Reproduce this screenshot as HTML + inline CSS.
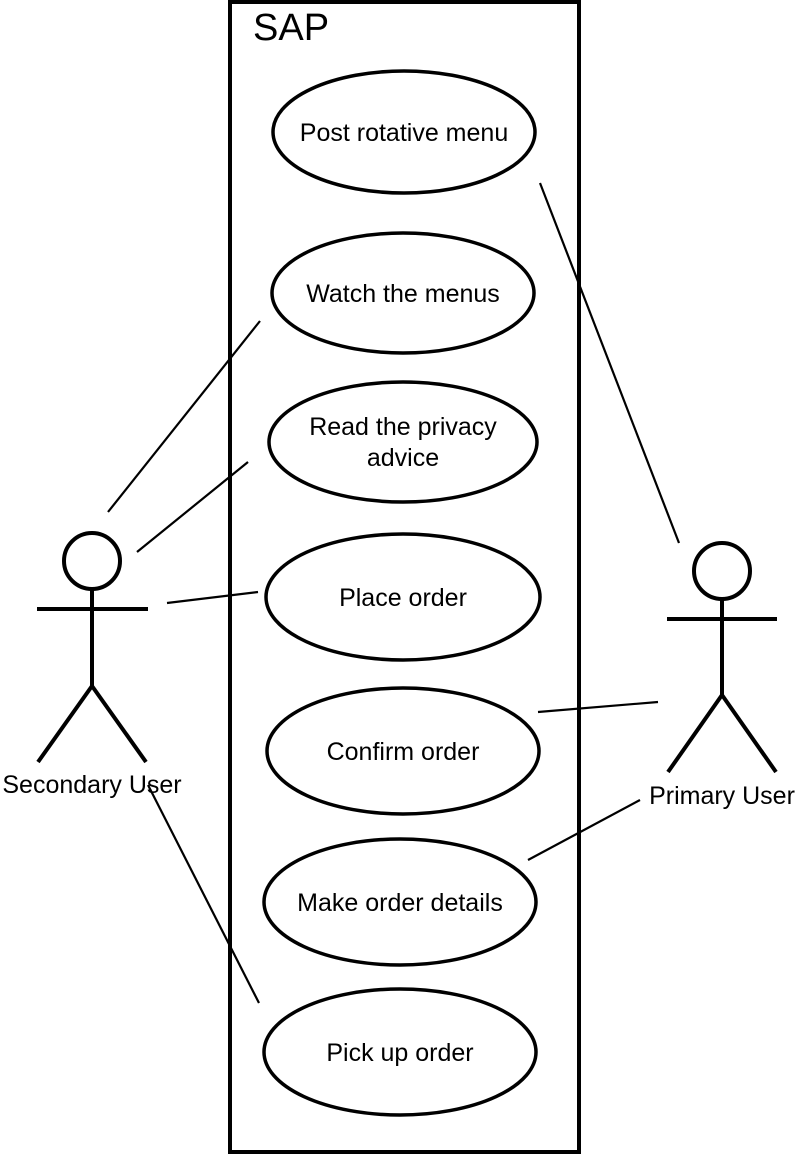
<!DOCTYPE html>
<html><head><meta charset="utf-8"><style>
html,body{margin:0;padding:0;background:#fff;}
svg{display:block;}
text{font-family:"Liberation Sans",Arial,sans-serif;fill:#000;}
</style></head><body>
<svg width="800" height="1155" viewBox="0 0 800 1155">
<rect x="230" y="2" width="349" height="1150" fill="none" stroke="#000" stroke-width="4"/>
<text x="253" y="40" font-size="38">SAP</text>
<g fill="#fff" stroke="#000" stroke-width="3.5">
<ellipse cx="404" cy="132" rx="131" ry="61"/>
<ellipse cx="403" cy="293" rx="131" ry="60"/>
<ellipse cx="403" cy="442" rx="134" ry="60"/>
<ellipse cx="403" cy="597" rx="137" ry="63"/>
<ellipse cx="403" cy="751" rx="136" ry="63"/>
<ellipse cx="400" cy="902" rx="136" ry="63"/>
<ellipse cx="400" cy="1052" rx="136" ry="63"/>
</g>
<g font-size="25" text-anchor="middle">
<text x="404" y="141">Post rotative menu</text>
<text x="403" y="302">Watch the menus</text>
<text x="403" y="435">Read the privacy</text>
<text x="403" y="466">advice</text>
<text x="403" y="606">Place order</text>
<text x="403" y="760">Confirm order</text>
<text x="400" y="911">Make order details</text>
<text x="400" y="1061">Pick up order</text>
</g>
<g stroke="#000" stroke-width="2.2">
<line x1="540" y1="183" x2="679" y2="543"/>
<line x1="260" y1="321" x2="108" y2="512"/>
<line x1="248" y1="462" x2="137" y2="552"/>
<line x1="167" y1="603" x2="258" y2="592"/>
<line x1="538" y1="712" x2="658" y2="702"/>
<line x1="528" y1="860" x2="640" y2="800"/>
<line x1="148" y1="785" x2="259" y2="1003"/>
</g>
<g fill="none" stroke="#000" stroke-width="4">
<circle cx="92" cy="561" r="28"/>
<line x1="37" y1="609" x2="148" y2="609"/>
<line x1="92" y1="589" x2="92" y2="686"/>
<line x1="92" y1="686" x2="38" y2="762"/>
<line x1="92" y1="686" x2="146" y2="762"/>
</g>
<text x="92" y="793" font-size="25" text-anchor="middle">Secondary User</text>
<g fill="none" stroke="#000" stroke-width="4">
<circle cx="722" cy="571" r="28"/>
<line x1="667" y1="619" x2="777" y2="619"/>
<line x1="722" y1="599" x2="722" y2="695"/>
<line x1="722" y1="695" x2="668" y2="772"/>
<line x1="722" y1="695" x2="776" y2="772"/>
</g>
<text x="722" y="804" font-size="25" text-anchor="middle">Primary User</text>
</svg>
</body></html>
